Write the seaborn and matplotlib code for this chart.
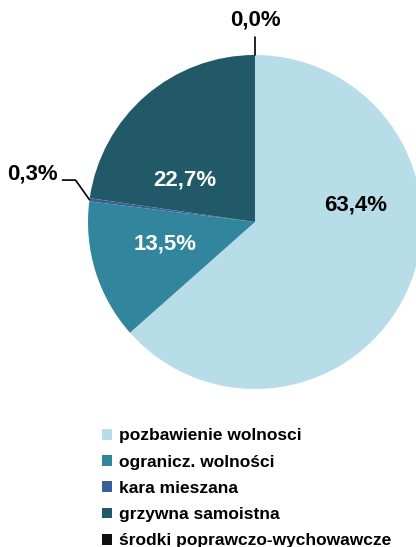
import matplotlib
matplotlib.use("Agg")
import matplotlib.pyplot as plt
import seaborn as sns
import numpy as np
from matplotlib import font_manager

sns.set_theme(style="white")

# dane
kategorie = ["pozbawienie wolnosci", "ogranicz. wolności", "kara mieszana",
             "grzywna samoistna", "środki poprawczo-wychowawcze"]
udzialy = [63.4, 13.5, 0.3, 22.7, 0.0]
etykiety = ["63,4%", "13,5%", "0,3%", "22,7%", "0,0%"]
kolory = ["#B7DEE8", "#31859C", "#3A5F9B", "#215968", "#111111"]

names = {f.name for f in font_manager.fontManager.ttflist}
rodzina = "Liberation Sans Narrow" if "Liberation Sans Narrow" in names else "Liberation Sans"
plt.rcParams["font.family"] = [rodzina, "DejaVu Sans"]
plt.rcParams["font.weight"] = "bold"
plt.rcParams["text.color"] = "black"

fig = plt.figure(figsize=(4.16, 5.47), dpi=100)
ax = fig.add_axes([0, 0, 1, 1])
wedges, _ = ax.pie(udzialy, colors=kolory, startangle=90, counterclock=False,
                   radius=1.0, wedgeprops=dict(linewidth=0))
ax.set_xlim(-1.527, 0.964)
ax.set_ylim(-1.946, 1.329)
ax.set_aspect("equal")
ax.axis("off")

# pozycje etykiet
pos = [(0.60, 0.10), (-0.54, -0.13), (-1.18, 0.29), (-0.42, 0.25), (0.0, 1.21)]
kol_txt = ["black", "white", "black", "white", "black"]
ha = ["center", "center", "right", "center", "center"]
for (x, y), t, c, h in zip(pos, etykiety, kol_txt, ha):
    ax.text(x, y, t, color=c, ha=h, va="center", fontsize=16, fontweight="bold")

# linie odniesienia
w = wedges[2]
kat = np.deg2rad((w.theta1 + w.theta2) / 2)
ax.plot([-1.153, -1.075, np.cos(kat)], [0.251, 0.251, np.sin(kat)],
        color="black", lw=1.2)
w = wedges[4]
kat = np.deg2rad(w.theta1)
ax.plot([np.cos(kat), np.cos(kat)], [1.0, 1.108], color="black", lw=1.2)

fig.legend(wedges, kategorie, loc="upper left", bbox_to_anchor=(0.225, 0.233),
           frameon=False, fontsize=12.5, handlelength=0.58, handleheight=0.58,
           handletextpad=0.4, labelspacing=0.65, borderpad=0)

fig.savefig("out.png", dpi=100)
